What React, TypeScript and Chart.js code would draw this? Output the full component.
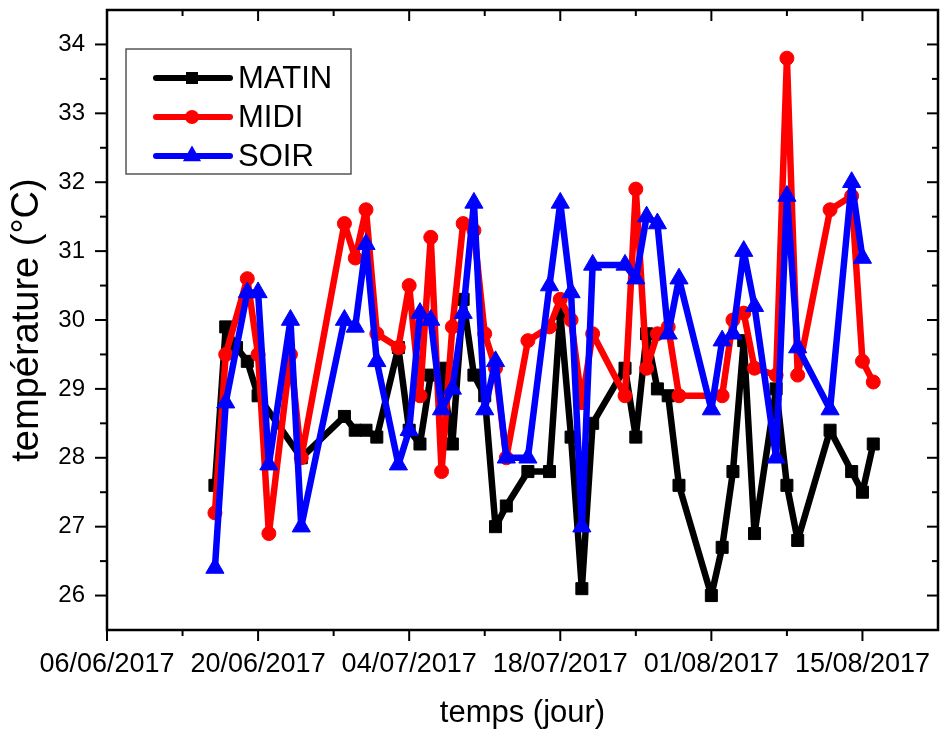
import React, { useEffect, useRef } from "react";
import { Chart, registerables } from "chart.js";

Chart.register(...registerables);

const FONT = "'Liberation Sans', Arial, Helvetica, sans-serif";
const DAY = 86400000;
const ORIGIN = Date.UTC(2017, 5, 6); // 06/06/2017

// Measurement dates
const dates = [
  "2017-06-16", "2017-06-17", "2017-06-18", "2017-06-19", "2017-06-20", "2017-06-21",
  "2017-06-23", "2017-06-24", "2017-06-28", "2017-06-29", "2017-06-30", "2017-07-01",
  "2017-07-03", "2017-07-04", "2017-07-05", "2017-07-06", "2017-07-07", "2017-07-08",
  "2017-07-09", "2017-07-10", "2017-07-11", "2017-07-12", "2017-07-13", "2017-07-15",
  "2017-07-17", "2017-07-18", "2017-07-19", "2017-07-20", "2017-07-21", "2017-07-24",
  "2017-07-25", "2017-07-26", "2017-07-27", "2017-07-28", "2017-07-29", "2017-08-01",
  "2017-08-02", "2017-08-03", "2017-08-04", "2017-08-05", "2017-08-07", "2017-08-08",
  "2017-08-09", "2017-08-12", "2017-08-14", "2017-08-15", "2017-08-16",
];

// Temperatures (°C); null = no reading
const matin = [
  27.6, 29.9, 29.6, 29.4, 28.9, null, null, 28.0, 28.6, 28.4, 28.4, 28.3,
  29.6, 28.4, 28.2, 29.2, 29.3, 28.2, 30.3, 29.2, 28.9, 27.0, 27.3, 27.8,
  27.8, 30.1, 28.3, 26.1, 28.5, 29.3, 28.3, 29.8, 29.0, 28.9, 27.6, 26.0,
  26.7, 27.8, 29.7, 26.9, 29.0, 27.6, 26.8, 28.4, 27.8, 27.5, 28.2,
];
const midi = [
  27.2, 29.5, null, 30.6, 29.5, 26.9, 29.5, 28.0, 31.4, 30.9, 31.6, 29.8,
  29.6, 30.5, 28.9, 31.2, 27.8, 29.9, 31.4, 31.3, 29.8, 29.3, 28.0, 29.7,
  29.9, 30.3, 30.0, 28.8, 29.8, 28.9, 31.9, 29.3, 29.8, 29.9, 28.9, null,
  28.9, 30.0, 30.1, 29.3, 29.2, 33.8, 29.2, 31.6, 31.8, 29.4, 29.1,
];
const soir = [
  26.4, 28.8, null, 30.4, 30.4, 27.9, 30.0, 27.0, 30.0, 29.9, 31.1, 29.4,
  27.9, 28.4, 30.1, 30.0, 28.7, 29.0, 30.1, 31.7, 28.7, 29.4, 28.0, 28.0,
  30.5, 31.7, 30.4, 27.0, 30.8, 30.8, 30.6, 31.5, 31.4, 29.8, 30.6, 28.7,
  29.7, 29.8, 31.0, 30.2, 28.0, 31.8, 29.6, 28.7, 32.0, 30.9, null,
];

// Axis ticks
const xStart = "2017-06-06";
const xEnd = "2017-08-22";
const xMajorDates = ["2017-06-06", "2017-06-20", "2017-07-04", "2017-07-18", "2017-08-01", "2017-08-15"];
const xMinorDates = ["2017-06-13", "2017-06-27", "2017-07-11", "2017-07-25", "2017-08-08"];
const yMajor = [26, 27, 28, 29, 30, 31, 32, 33, 34];
const yMinor = [26.5, 27.5, 28.5, 29.5, 30.5, 31.5, 32.5, 33.5];
const yMin = 25.5;
const yMax = 34.5;

const toDay = (s: string) => Math.round((Date.parse(s + "T00:00:00Z") - ORIGIN) / DAY);
const pad2 = (n: number) => String(n).padStart(2, "0");
const dayLabel = (d: number) => {
  const t = new Date(ORIGIN + d * DAY);
  return `${pad2(t.getUTCDate())}/${pad2(t.getUTCMonth() + 1)}/${t.getUTCFullYear()}`;
};

const framePlugin = {
  id: "frameTicks",
  afterDatasetsDraw(chart: any) {
    const { ctx, chartArea: a, scales } = chart;
    const x = scales.x;
    const y = scales.y;
    ctx.save();
    ctx.strokeStyle = "#000";
    ctx.lineWidth = 2;
    const seg = (x1: number, y1: number, x2: number, y2: number) => {
      ctx.beginPath();
      ctx.moveTo(x1, y1);
      ctx.lineTo(x2, y2);
      ctx.stroke();
    };
    yMajor.forEach((v) => {
      const p = y.getPixelForValue(v);
      seg(a.left - 12, p, a.left, p);
      seg(a.right - 11, p, a.right, p);
    });
    yMinor.forEach((v) => {
      const p = y.getPixelForValue(v);
      seg(a.left - 7, p, a.left, p);
      seg(a.right - 6, p, a.right, p);
    });
    xMajorDates.map(toDay).forEach((d) => {
      const p = x.getPixelForValue(d);
      seg(p, a.bottom, p, a.bottom + 11);
      seg(p, a.top, p, a.top + 11);
    });
    xMinorDates.map(toDay).forEach((d) => {
      const p = x.getPixelForValue(d);
      seg(p, a.bottom, p, a.bottom + 6);
      seg(p, a.top, p, a.top + 6);
    });
    ctx.lineWidth = 2.5;
    ctx.strokeRect(a.left, a.top, a.right - a.left, a.bottom - a.top);
    ctx.restore();
  },
};

const drawMarker = (ctx: CanvasRenderingContext2D, style: string, cx: number, cy: number, r: number) => {
  ctx.beginPath();
  if (style === "rect") {
    const s = Math.SQRT1_2 * r;
    ctx.rect(cx - s, cy - s, 2 * s, 2 * s);
  } else if (style === "triangle") {
    let rad = 0;
    ctx.moveTo(cx + Math.sin(rad) * r, cy - Math.cos(rad) * r);
    rad += (2 * Math.PI) / 3;
    ctx.lineTo(cx + Math.sin(rad) * r, cy - Math.cos(rad) * r);
    rad += (2 * Math.PI) / 3;
    ctx.lineTo(cx + Math.sin(rad) * r, cy - Math.cos(rad) * r);
    ctx.closePath();
  } else {
    ctx.arc(cx, cy, r, 0, Math.PI * 2);
  }
  ctx.fill();
};

const legendPlugin = {
  id: "boxLegend",
  afterDraw(chart: any) {
    const { ctx, chartArea: a } = chart;
    const bx = a.left + 19;
    const by = a.top + 39;
    const bw = 225;
    const bh = 125;
    ctx.save();
    ctx.fillStyle = "#fff";
    ctx.fillRect(bx, by, bw, bh);
    ctx.strokeStyle = "#555";
    ctx.lineWidth = 1.5;
    ctx.strokeRect(bx, by, bw, bh);
    chart.data.datasets.forEach((ds: any, i: number) => {
      const cy = by + 29 + i * 39;
      ctx.strokeStyle = ds.borderColor;
      ctx.fillStyle = ds.borderColor;
      ctx.lineWidth = 6;
      ctx.lineCap = "round";
      ctx.beginPath();
      ctx.moveTo(bx + 30, cy);
      ctx.lineTo(bx + 104, cy);
      ctx.stroke();
      drawMarker(ctx, ds.pointStyle, bx + 66, cy, ds.pointRadius);
      ctx.fillStyle = "#000";
      ctx.font = `31px ${FONT}`;
      ctx.textAlign = "left";
      ctx.textBaseline = "middle";
      ctx.fillText(ds.label, bx + 112, cy + 1);
    });
    ctx.restore();
  },
};

export default function App() {
  const ref = useRef<HTMLCanvasElement>(null);

  useEffect(() => {
    const xs = dates.map(toDay);
    const pts = (vals: (number | null)[]) =>
      xs.map((d, i) => ({ x: d, y: vals[i] })).filter((p) => p.y !== null);

    const common = {
      borderWidth: 6.5,
      borderJoinStyle: "round",
      borderCapStyle: "round",
      pointBorderWidth: 1,
      tension: 0,
      fill: false,
    };
    const chart = new Chart(ref.current as HTMLCanvasElement, {
      type: "line",
      data: {
        datasets: [
          { ...common, label: "MATIN", data: pts(matin), borderColor: "#000000", backgroundColor: "#000000", pointStyle: "rect", pointRadius: 8.5, order: 3 },
          { ...common, label: "MIDI", data: pts(midi), borderColor: "#ff0000", backgroundColor: "#ff0000", pointStyle: "circle", pointRadius: 7, order: 2 },
          { ...common, label: "SOIR", data: pts(soir), borderColor: "#0000ff", backgroundColor: "#0000ff", pointStyle: "triangle", pointRadius: 10.5, order: 1 },
        ] as any,
      },
      options: {
        responsive: false,
        animation: false,
        devicePixelRatio: 1,
        events: [],
        layout: { autoPadding: false, padding: { top: 10, right: 3, left: 0, bottom: 0 } },
        plugins: { legend: { display: false }, tooltip: { enabled: false } },
        scales: {
          x: {
            type: "linear",
            min: toDay(xStart),
            max: toDay(xEnd),
            grid: { display: false, drawTicks: false },
            border: { display: false },
            afterBuildTicks: (s: any) => {
              s.ticks = xMajorDates.map((d) => ({ value: toDay(d) }));
            },
            afterFit: (s: any) => {
              s.height = 99;
              s.paddingLeft = 0;
              s.paddingRight = 0;
            },
            ticks: {
              autoSkip: false,
              maxRotation: 0,
              padding: 18,
              color: "#000",
              font: { family: FONT, size: 27 },
              callback: (v: any) => dayLabel(Number(v)),
            },
            title: {
              display: true,
              text: "temps (jour)",
              color: "#000",
              font: { family: FONT, size: 31, lineHeight: 1 },
              padding: { top: 0, bottom: 0 },
            },
          },
          y: {
            type: "linear",
            min: yMin,
            max: yMax,
            grid: { display: false, drawTicks: false },
            border: { display: false },
            afterBuildTicks: (s: any) => {
              s.ticks = yMajor.map((v) => ({ value: v }));
            },
            afterFit: (s: any) => {
              s.width = 107;
              s.paddingTop = 0;
              s.paddingBottom = 0;
            },
            ticks: {
              padding: 22,
              color: "#000",
              font: { family: FONT, size: 24 },
              callback: (v: any) => String(v),
            },
            title: {
              display: true,
              text: "température (°C)",
              color: "#000",
              font: { family: FONT, size: 38, lineHeight: 1 },
              padding: { top: 9, bottom: 0 },
            },
          },
        },
      } as any,
      plugins: [framePlugin, legendPlugin],
    });
    return () => chart.destroy();
  }, []);

  return (
    <div style={{ position: "fixed", left: 0, top: 0, width: 941, height: 729, background: "#fff" }}>
      <canvas ref={ref} width={941} height={729} style={{ display: "block" }} />
    </div>
  );
}
